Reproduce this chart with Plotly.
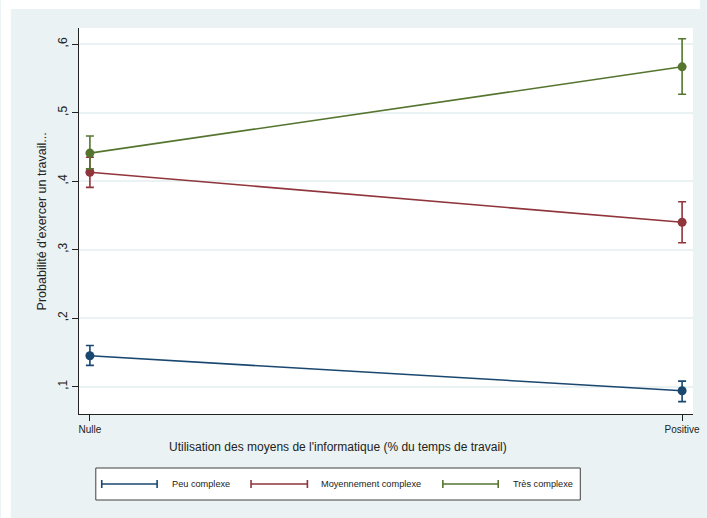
import plotly.graph_objects as go

# ---- data ----
categories = ["Nulle", "Positive"]
series_names = ["Peu complexe", "Moyennement complexe", "Très complexe"]
peu_mean = [0.145, 0.094]
peu_low = [0.131, 0.078]
peu_high = [0.160, 0.108]
moy_mean = [0.413, 0.340]
moy_low = [0.391, 0.310]
moy_high = [0.435, 0.370]
tres_mean = [0.441, 0.567]
tres_low = [0.418, 0.527]
tres_high = [0.466, 0.608]
y_tickvals = [0.1, 0.2, 0.3, 0.4, 0.5, 0.6]
y_ticktext = [",1", ",2", ",3", ",4", ",5", ",6"]

colors = ["#1a476f", "#90353b", "#55752f"]
W, H = 707, 518
L, R, T, B = 79, 700, 28, 414

def px(x):
    return (x - L) / (R - L)

def py(y):
    return (B - y) / (B - T)

fig = go.Figure()
all_series = [
    (peu_mean, peu_low, peu_high),
    (moy_mean, moy_low, moy_high),
    (tres_mean, tres_low, tres_high),
]
for name, (m, lo, hi), c in zip(series_names, all_series, colors):
    fig.add_trace(go.Scatter(
        x=categories, y=m, name=name, mode="lines+markers",
        line=dict(color=c, width=1.6),
        marker=dict(color=c, size=9),
        error_y=dict(type="data", symmetric=False,
                     array=[h - v for h, v in zip(hi, m)],
                     arrayminus=[v - l for l, v in zip(lo, m)],
                     color=c, thickness=1.6, width=4),
        showlegend=False,
    ))

font = "Liberation Sans, Arial, sans-serif"
shapes = []
# white strips outside the outer panel
shapes.append(dict(type="rect", xref="paper", yref="paper", x0=px(0), x1=px(10), y0=py(0), y1=py(H),
                   fillcolor="white", line=dict(width=0), layer="below"))
shapes.append(dict(type="rect", xref="paper", yref="paper", x0=px(0), x1=px(W), y0=py(0), y1=py(9),
                   fillcolor="white", line=dict(width=0), layer="below"))
# legend box
shapes.append(dict(type="rect", xref="paper", yref="paper", x0=px(96), x1=px(586), y0=py(468), y1=py(500),
                   fillcolor="white", line=dict(color="#404040", width=1)))
legend_items = [(102, 158, 171), (253, 310, 322), (447, 503, 516)]
annotations = []
ly = 484
for (x0, x1, tx), c, name in zip(legend_items, colors, series_names):
    shapes.append(dict(type="line", xref="paper", yref="paper", x0=px(x0), x1=px(x1), y0=py(ly), y1=py(ly),
                       line=dict(color=c, width=1.6)))
    for xx in (x0, x1):
        shapes.append(dict(type="line", xref="paper", yref="paper", x0=px(xx), x1=px(xx), y0=py(ly - 4), y1=py(ly + 4),
                           line=dict(color=c, width=1.6)))
    annotations.append(dict(text=name, xref="paper", yref="paper", x=px(tx), y=py(ly), xanchor="left",
                            yanchor="middle", showarrow=False, font=dict(family=font, size=9.2, color="#222")))

annotations.append(dict(text="Utilisation des moyens de l'informatique (% du temps de travail)",
                        xref="paper", yref="paper", x=px(341), y=py(447), xanchor="center", yanchor="middle",
                        showarrow=False, font=dict(family=font, size=12, color="#222")))
annotations.append(dict(text="Probabilité d'exercer un travail...",
                        xref="paper", yref="paper", x=px(42), y=py(221), xanchor="center", yanchor="middle",
                        textangle=-90, showarrow=False, font=dict(family=font, size=12.5, color="#222")))

fig.update_layout(
    width=W, height=H,
    margin=dict(l=L, r=W - R, t=T, b=H - B),
    paper_bgcolor="#EAF2F3", plot_bgcolor="white",
    font=dict(family=font, color="#222"),
    shapes=shapes, annotations=annotations,
    showlegend=False,
)
fig.update_xaxes(type="category", range=[-0.0184, 1.0184], showgrid=False, zeroline=False,
                 showline=True, linecolor="#222", linewidth=1, ticks="outside", ticklen=6,
                 tickcolor="#222", tickfont=dict(size=10, family=font, color="#222"))
fig.update_yaxes(range=[0.060, 0.6237], tickvals=y_tickvals, ticktext=y_ticktext, tickangle=-90,
                 showgrid=True, gridcolor="#EAF2F3", gridwidth=1.5, zeroline=False,
                 showline=True, linecolor="#222", linewidth=1, ticks="outside", ticklen=6,
                 tickcolor="#222", tickfont=dict(size=12, family=font, color="#222"))

fig.write_html("out.html", config={"displayModeBar": False},
               post_script="document.body.style.margin='0';document.body.style.overflow='hidden';")
